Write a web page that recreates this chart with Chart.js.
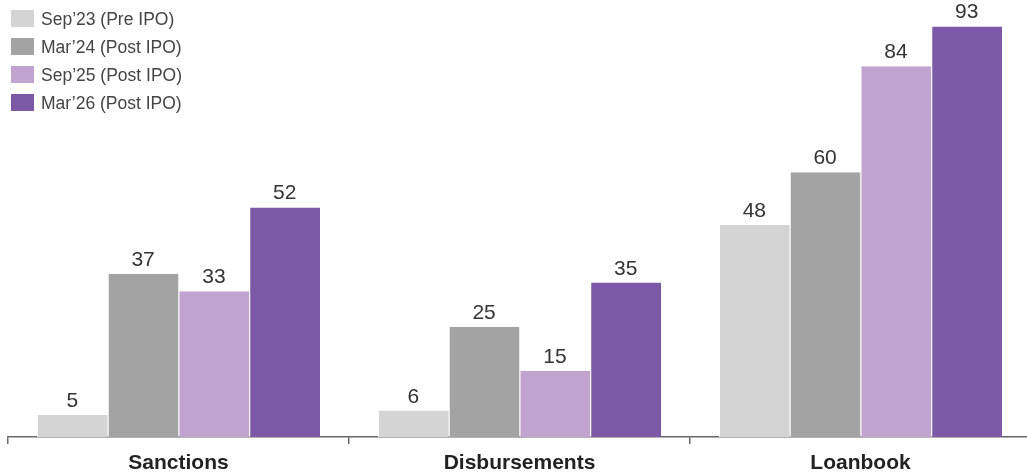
<!DOCTYPE html>
<html>
<head>
<meta charset="utf-8">
<script src="https://cdn.jsdelivr.net/npm/chart.js@4.4.1/dist/chart.umd.min.js"></script>
<style>
  html, body { margin: 0; padding: 0; background: #ffffff; overflow: hidden; }
  #wrap { position: relative; width: 1031px; height: 474px; }
</style>
</head>
<body>
<div id="wrap"><canvas id="c"></canvas></div>
<script>
// Categories and series values by period
const categories = ['Sanctions', 'Disbursements', 'Loanbook'];
const seriesLabels = ['Sep\u201923 (Pre IPO)', 'Mar\u201924 (Post IPO)', 'Sep\u201925 (Post IPO)', 'Mar\u201926 (Post IPO)'];
const sep23 = [5, 6, 48];
const mar24 = [37, 25, 60];
const sep25 = [33, 15, 84];
const mar26 = [52, 35, 93];
const seriesColors = ['#d4d4d4', '#a3a3a3', '#c1a3cf', '#7b59a6'];

const seriesValues = [sep23, mar24, sep25, mar26];
const fontFamily = '"Liberation Sans", Arial, sans-serif';

// Value labels above each bar
const valueLabels = {
  id: 'valueLabels',
  afterDatasetsDraw(chart) {
    const ctx = chart.ctx;
    ctx.save();
    ctx.font = '21px ' + fontFamily;
    ctx.fillStyle = '#333333';
    ctx.textAlign = 'center';
    ctx.textBaseline = 'alphabetic';
    chart.data.datasets.forEach((ds, i) => {
      const meta = chart.getDatasetMeta(i);
      meta.data.forEach((bar, j) => {
        ctx.fillText(String(ds.data[j]), bar.x, bar.y - 8);
      });
    });
    ctx.restore();
  }
};

// Legend stacked in the top-left corner
const cornerLegend = {
  id: 'cornerLegend',
  afterDraw(chart) {
    const ctx = chart.ctx;
    ctx.save();
    ctx.font = '17.5px ' + fontFamily;
    ctx.textBaseline = 'middle';
    ctx.textAlign = 'left';
    chart.data.datasets.forEach((ds, i) => {
      const y = 19 + i * 28;
      ctx.fillStyle = ds.backgroundColor;
      ctx.fillRect(11, y - 9, 23, 17);
      ctx.fillStyle = '#444444';
      ctx.fillText(ds.label, 41, y + 1);
    });
    ctx.restore();
  }
};

new Chart(document.getElementById('c'), {
  type: 'bar',
  data: {
    labels: categories,
    datasets: seriesLabels.map((label, i) => ({
      label: label,
      data: seriesValues[i],
      backgroundColor: seriesColors[i],
      borderColor: '#ffffff',
      borderWidth: { left: 1, right: 0, top: 0, bottom: 0 },
      borderSkipped: false,
      categoryPercentage: 0.83,
      barPercentage: 1.0
    }))
  },
  options: {
    responsive: true,
    maintainAspectRatio: false,
    animation: false,
    layout: { padding: { left: 8, right: 0, top: 0, bottom: 0 } },
    plugins: {
      legend: { display: false },
      tooltip: { enabled: false }
    },
    scales: {
      x: {
        offset: true,
        grid: {
          offset: true,
          drawOnChartArea: false,
          drawTicks: true,
          tickLength: 7,
          color: '#666666',
          lineWidth: 1.5
        },
        border: { display: true, color: '#666666', width: 1.5 },
        ticks: {
          padding: 7,
          color: '#222222',
          font: { family: fontFamily, size: 21, weight: 'bold' }
        },
        afterFit(scale) { scale.height = 37; }
      },
      y: {
        display: false,
        min: 0,
        max: 99
      }
    }
  },
  plugins: [valueLabels, cornerLegend]
});
</script>
</body>
</html>
